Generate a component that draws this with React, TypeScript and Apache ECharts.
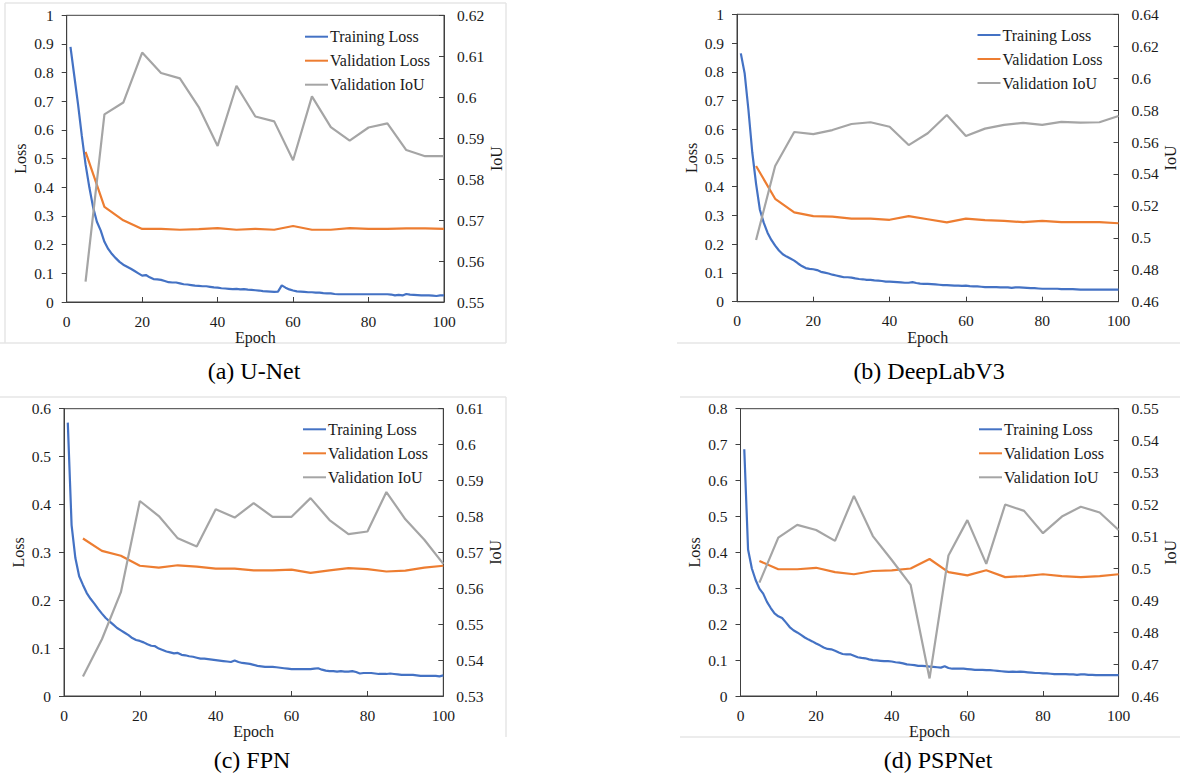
import { useEffect, useRef } from "react";
import * as echarts from "echarts";

// ---------- DATA ----------
const trainEpochs = Array.from({ length: 100 }, (_, i) => i + 1);
const valEpochs = [5, 10, 15, 20, 25, 30, 35, 40, 45, 50, 55, 60, 65, 70, 75, 80, 85, 90, 95, 100];
const xTicks = [0, 20, 40, 60, 80, 100];

const unetTrainLoss = [
  0.89, 0.79, 0.69, 0.58, 0.48, 0.40, 0.33, 0.28, 0.25, 0.21,
  0.185, 0.167, 0.153, 0.14, 0.13, 0.123, 0.116, 0.108, 0.1, 0.092,
  0.094, 0.086, 0.08, 0.079, 0.077, 0.073, 0.069, 0.068, 0.068, 0.065,
  0.062, 0.061, 0.059, 0.057, 0.056, 0.055, 0.055, 0.053, 0.051, 0.05,
  0.048, 0.047, 0.046, 0.045, 0.046, 0.044, 0.045, 0.043, 0.042, 0.041,
  0.04, 0.038, 0.037, 0.036, 0.035, 0.036, 0.058, 0.05, 0.044, 0.04,
  0.037, 0.036, 0.035, 0.034, 0.034, 0.033, 0.033, 0.031, 0.03, 0.03,
  0.028, 0.027, 0.027, 0.027, 0.027, 0.027, 0.027, 0.027, 0.027, 0.027,
  0.027, 0.027, 0.027, 0.027, 0.027, 0.026, 0.023, 0.025, 0.023, 0.028,
  0.026, 0.025, 0.024, 0.023, 0.023, 0.023, 0.022, 0.021, 0.023, 0.023,
];
const unetValLoss = [0.524, 0.332, 0.285, 0.255, 0.255, 0.252, 0.254, 0.258, 0.252, 0.255, 0.252, 0.265, 0.252, 0.252, 0.258, 0.255, 0.255, 0.257, 0.257, 0.255];
const unetValIoU = [0.555, 0.5958, 0.5987, 0.6109, 0.6059, 0.6046, 0.5976, 0.5881, 0.6028, 0.5953, 0.5941, 0.5846, 0.6002, 0.5927, 0.5894, 0.5926, 0.5936, 0.5871, 0.5856, 0.5856];

const deeplabTrainLoss = [
  0.864, 0.795, 0.667, 0.52, 0.41, 0.32, 0.275, 0.24, 0.215, 0.195,
  0.178, 0.165, 0.157, 0.15, 0.143, 0.133, 0.124, 0.117, 0.114, 0.113,
  0.11, 0.104, 0.101, 0.098, 0.094, 0.091, 0.088, 0.085, 0.085, 0.084,
  0.081, 0.079, 0.078, 0.076, 0.076, 0.074, 0.073, 0.072, 0.07, 0.07,
  0.069, 0.068, 0.067, 0.066, 0.066, 0.068, 0.065, 0.063, 0.062, 0.062,
  0.061, 0.06, 0.059, 0.058, 0.058, 0.057, 0.056, 0.056, 0.055, 0.056,
  0.054, 0.053, 0.053, 0.052, 0.051, 0.051, 0.051, 0.051, 0.05, 0.05,
  0.05, 0.048, 0.05, 0.05, 0.049, 0.048, 0.047, 0.047, 0.046, 0.045,
  0.045, 0.045, 0.045, 0.045, 0.044, 0.044, 0.044, 0.044, 0.043, 0.042,
  0.042, 0.042, 0.042, 0.042, 0.042, 0.042, 0.042, 0.042, 0.042, 0.042,
];
const deeplabValLoss = [0.472, 0.358, 0.311, 0.298, 0.296, 0.289, 0.289, 0.285, 0.298, 0.287, 0.276, 0.289, 0.284, 0.281, 0.277, 0.281, 0.277, 0.277, 0.277, 0.273];
const deeplabValIoU = [0.4986, 0.545, 0.5663, 0.565, 0.5675, 0.5713, 0.5724, 0.5696, 0.5581, 0.5655, 0.5769, 0.5638, 0.5684, 0.5707, 0.572, 0.5707, 0.5726, 0.5722, 0.5724, 0.5763];

const fpnTrainLoss = [
  0.571, 0.357, 0.288, 0.25, 0.232, 0.215, 0.203, 0.193, 0.182, 0.172,
  0.163, 0.156, 0.149, 0.142, 0.137, 0.132, 0.127, 0.121, 0.117, 0.115,
  0.112, 0.108, 0.105, 0.104, 0.099, 0.096, 0.093, 0.091, 0.089, 0.09,
  0.086, 0.085, 0.083, 0.082, 0.08, 0.078, 0.078, 0.077, 0.076, 0.075,
  0.074, 0.073, 0.072, 0.071, 0.074, 0.071, 0.069, 0.068, 0.067, 0.065,
  0.063, 0.062, 0.061, 0.061, 0.061, 0.06, 0.059, 0.058, 0.057, 0.056,
  0.056, 0.056, 0.056, 0.056, 0.056, 0.057, 0.058, 0.055, 0.053, 0.052,
  0.052, 0.051, 0.052, 0.051, 0.051, 0.052, 0.05, 0.047, 0.048, 0.048,
  0.048, 0.047, 0.046, 0.046, 0.046, 0.047, 0.046, 0.045, 0.044, 0.044,
  0.044, 0.044, 0.043, 0.042, 0.042, 0.042, 0.042, 0.042, 0.041, 0.043,
];
const fpnValLoss = [0.329, 0.303, 0.293, 0.272, 0.268, 0.273, 0.27, 0.266, 0.266, 0.2625, 0.2625, 0.264, 0.257, 0.2625, 0.267, 0.265, 0.26, 0.262, 0.268, 0.272];
const fpnValIoU = [0.5354, 0.5458, 0.5589, 0.5843, 0.5801, 0.5739, 0.5716, 0.582, 0.5797, 0.5837, 0.5799, 0.5799, 0.5851, 0.579, 0.5751, 0.5758, 0.5868, 0.5792, 0.5735, 0.5668];

const pspTrainLoss = [
  0.687, 0.408, 0.355, 0.323, 0.299, 0.285, 0.262, 0.245, 0.23, 0.222,
  0.217, 0.205, 0.192, 0.183, 0.177, 0.17, 0.163, 0.157, 0.152, 0.146,
  0.141, 0.135, 0.131, 0.13, 0.126, 0.121, 0.117, 0.116, 0.116, 0.112,
  0.108, 0.106, 0.105, 0.102, 0.1, 0.099, 0.098, 0.097, 0.097, 0.096,
  0.094, 0.093, 0.091, 0.088, 0.087, 0.086, 0.084, 0.084, 0.083, 0.082,
  0.081, 0.08, 0.079, 0.083, 0.078, 0.076, 0.076, 0.076, 0.076, 0.075,
  0.074, 0.073, 0.073, 0.073, 0.072, 0.072, 0.071, 0.07, 0.069, 0.068,
  0.067, 0.068, 0.067, 0.068, 0.067, 0.066, 0.065, 0.064, 0.064, 0.063,
  0.063, 0.062, 0.061, 0.061, 0.061, 0.061, 0.06, 0.06, 0.059, 0.06,
  0.06, 0.059, 0.059, 0.058, 0.058, 0.058, 0.058, 0.058, 0.058, 0.058,
];
const pspValLoss = [0.376, 0.353, 0.353, 0.357, 0.345, 0.339, 0.348, 0.35, 0.355, 0.3815, 0.345, 0.336, 0.35, 0.331, 0.334, 0.339, 0.334, 0.331, 0.334, 0.339];
const pspValIoU = [0.4955, 0.5096, 0.5136, 0.512, 0.5086, 0.5227, 0.5101, 0.5026, 0.4948, 0.4655, 0.504, 0.5151, 0.5014, 0.52, 0.518, 0.511, 0.5162, 0.5193, 0.5175, 0.512];

const seriesNames = ["Training Loss", "Validation Loss", "Validation IoU"];
const captions = ["(a) U-Net", "(b) DeepLabV3", "(c) FPN", "(d) PSPNet"];

// ---------- LAYOUT ----------
const FONT = "Liberation Serif";
const AXIS = "#404040";
const TXT = "#1a1a1a";
const COLORS = ["#4472C4", "#ED7D31", "#A5A5A5"];

const panels = [
  {
    train: unetTrainLoss, vloss: unetValLoss, viou: unetValIoU,
    grid: { left: 66.7, top: 15.3, width: 377.3, height: 286.7 },
    loss: [0, 1, 0.1], iou: [0.55, 0.62, 0.01],
    legend: { left: 305, top: 28.7 }, caption: { x: 254, y: 371 },
  },
  {
    train: deeplabTrainLoss, vloss: deeplabValLoss, viou: deeplabValIoU,
    grid: { left: 737, top: 14.3, width: 381.5, height: 287.4 },
    loss: [0, 1, 0.1], iou: [0.46, 0.64, 0.02],
    legend: { left: 977.5, top: 27 }, caption: { x: 929, y: 371 },
  },
  {
    train: fpnTrainLoss, vloss: fpnValLoss, viou: fpnValIoU,
    grid: { left: 64, top: 408.7, width: 379.3, height: 287.3 },
    loss: [0, 0.6, 0.1], iou: [0.53, 0.61, 0.01],
    legend: { left: 303, top: 421.3 }, caption: { x: 252, y: 760 },
  },
  {
    train: pspTrainLoss, vloss: pspValLoss, viou: pspValIoU,
    grid: { left: 740.5, top: 408.7, width: 378.1, height: 287.3 },
    loss: [0, 0.8, 0.1], iou: [0.46, 0.55, 0.01],
    legend: { left: 979, top: 421.3 }, caption: { x: 938, y: 760 },
  },
];

const fmt = (v: number) => String(parseFloat(v.toFixed(2)));

function buildOption() {
  const grid: any[] = [];
  const xAxis: any[] = [];
  const yAxis: any[] = [];
  const series: any[] = [];
  const legend: any[] = [];
  const graphic: any[] = [];

  const labelStyle = { fontFamily: FONT, fontSize: 15.5, color: TXT };
  const nameStyle = { fontFamily: FONT, fontSize: 16, color: TXT };

  panels.forEach((p, i) => {
    grid.push({ ...p.grid, show: true, borderColor: AXIS, borderWidth: 1, containLabel: false });
    xAxis.push({
      type: "value", gridIndex: i, min: xTicks[0], max: xTicks[xTicks.length - 1], interval: 20,
      name: "Epoch", nameLocation: "middle", nameGap: 24, nameTextStyle: nameStyle,
      axisLine: { show: true, lineStyle: { color: AXIS, width: 1 } },
      axisTick: { show: true, inside: true, length: 5, lineStyle: { color: AXIS } },
      axisLabel: { ...labelStyle, margin: 11, formatter: (v: number) => String(v) },
      splitLine: { show: false },
    });
    yAxis.push({
      type: "value", gridIndex: i, position: "left", min: p.loss[0], max: p.loss[1], interval: p.loss[2],
      name: "Loss", nameLocation: "middle", nameGap: 38, nameRotate: 90, nameTextStyle: nameStyle,
      axisLine: { show: true, lineStyle: { color: AXIS, width: 1 } },
      axisTick: { show: true, inside: false, length: 5, lineStyle: { color: AXIS } },
      axisLabel: { ...labelStyle, margin: 13, formatter: fmt },
      splitLine: { show: false },
    });
    yAxis.push({
      type: "value", gridIndex: i, position: "right", min: p.iou[0], max: p.iou[1], interval: p.iou[2],
      name: "IoU", nameLocation: "middle", nameGap: 44, nameRotate: 90, nameTextStyle: nameStyle,
      axisLine: { show: true, lineStyle: { color: AXIS, width: 1 } },
      axisTick: { show: true, inside: true, length: 5, lineStyle: { color: AXIS } },
      axisLabel: { ...labelStyle, margin: 13, formatter: fmt },
      splitLine: { show: false },
    });
    const common = { type: "line", symbol: "none", xAxisIndex: i, animation: false, silent: true };
    series.push({
      ...common, name: seriesNames[0], yAxisIndex: i * 2,
      data: trainEpochs.map((e, k) => [e, p.train[k]]),
      lineStyle: { color: COLORS[0], width: 2.2 }, itemStyle: { color: COLORS[0] },
    });
    series.push({
      ...common, name: seriesNames[1], yAxisIndex: i * 2,
      data: valEpochs.map((e, k) => [e, p.vloss[k]]),
      lineStyle: { color: COLORS[1], width: 2.2 }, itemStyle: { color: COLORS[1] },
    });
    series.push({
      ...common, name: seriesNames[2], yAxisIndex: i * 2 + 1,
      data: valEpochs.map((e, k) => [e, p.viou[k]]),
      lineStyle: { color: COLORS[2], width: 2.2 }, itemStyle: { color: COLORS[2] },
    });
    legend.push({
      data: seriesNames, orient: "vertical", left: p.legend.left, top: p.legend.top,
      padding: 0, itemGap: 8, itemWidth: 23, itemHeight: 2, icon: "rect",
      selectedMode: false,
      textStyle: { fontFamily: FONT, fontSize: 16, color: TXT, padding: [0, 0, 0, -3] },
    });
    graphic.push({
      type: "text", x: p.caption.x, y: p.caption.y,
      style: { text: captions[i], fontFamily: FONT, fontSize: 24, fill: "#000", align: "center", verticalAlign: "middle" },
    });
  });

  // light frames of the original screenshots
  const frame = { stroke: "#e6e6e6", lineWidth: 1.5 };
  const frameLines = [
    [5, 3, 506, 3], [5, 3, 5, 343], [506, 3, 506, 343], [0, 343, 506, 343],
    [677, 343, 1180, 343],
    [0, 397, 506, 397], [506, 397, 506, 737],
    [680, 397, 1180, 397], [680, 737, 1180, 737],
  ];
  frameLines.forEach(([x1, y1, x2, y2]) => {
    graphic.push({ type: "line", shape: { x1, y1, x2, y2 }, style: frame, silent: true, z: -1 });
  });

  return {
    animation: false,
    backgroundColor: "#ffffff",
    textStyle: { fontFamily: FONT },
    grid, xAxis, yAxis, series, legend, graphic,
  };
}

export default function App() {
  const ref = useRef<HTMLDivElement>(null);
  useEffect(() => {
    if (!ref.current) return;
    const chart = echarts.init(ref.current, undefined, { renderer: "svg" });
    chart.setOption(buildOption() as any);
    return () => chart.dispose();
  }, []);
  return (
    <div
      ref={ref}
      style={{ position: "fixed", left: 0, top: 0, width: 1180, height: 776, background: "#fff" }}
    />
  );
}
